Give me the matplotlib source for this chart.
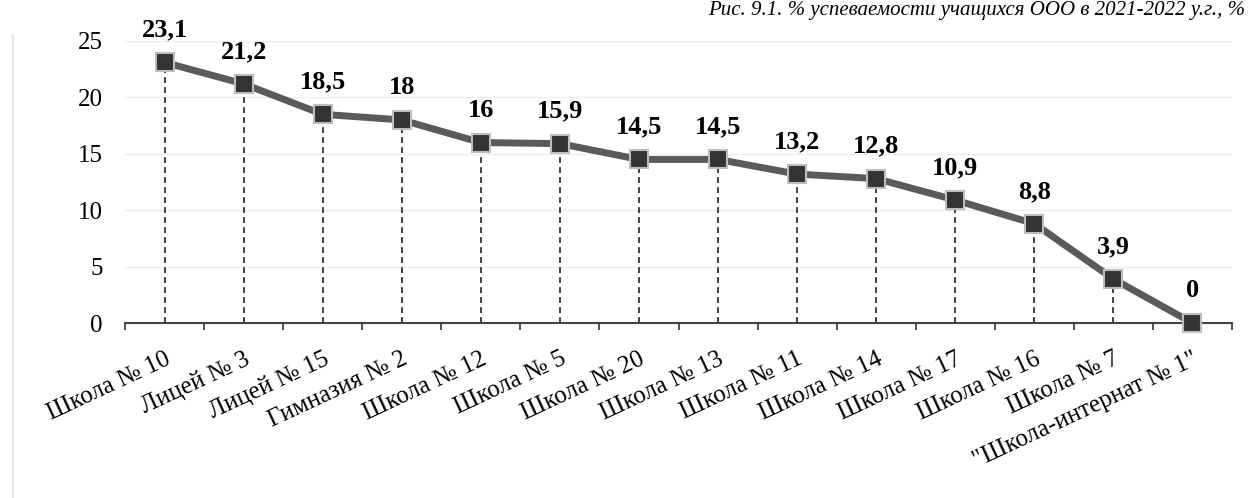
import numpy as np
import matplotlib.pyplot as plt

# Data
schools = ["Школа № 10", "Лицей № 3", "Лицей № 15", "Гимназия № 2", "Школа № 12",
           "Школа № 5", "Школа № 20", "Школа № 13", "Школа № 11", "Школа № 14",
           "Школа № 17", "Школа № 16", "Школа № 7", '"Школа-интернат № 1"']
values = [23.1, 21.2, 18.5, 18, 16, 15.9, 14.5, 14.5, 13.2, 12.8, 10.9, 8.8, 3.9, 0]
yticks = [0, 5, 10, 15, 20, 25]

plt.rcParams['font.family'] = ['Liberation Serif', 'DejaVu Serif']

fig = plt.figure(figsize=(12.5, 4.98), dpi=100)
ax = fig.add_axes([0.1, 0.3514, 0.8856, 0.5663])

x = np.arange(len(schools))

# dashed drop lines
ax.vlines(x, 0, values, colors='#222222', linestyles=(0, (3.5, 2.5)), linewidth=1.2, zorder=1)

# main line with square markers
ax.plot(x, values, color='#5a5a5a', linewidth=5, zorder=2, solid_capstyle='round')
ax.plot(x, values, linestyle='none', marker='s', markersize=13, markerfacecolor='#333333',
        markeredgecolor='#bdbdbd', markeredgewidth=1.5, zorder=3, clip_on=False)

for xi, v in zip(x, values):
    lbl = f"{v:g}".replace('.', ',')
    ax.annotate(lbl, (xi, v), xytext=(0, 15), textcoords='offset points', ha='center',
                va='bottom', fontsize=19, fontweight='bold', annotation_clip=False)

ax.set_xlim(-0.5, len(schools) - 0.5)
ax.set_ylim(0, 25)
ax.set_yticks(yticks)
ax.set_yticklabels([str(t) for t in yticks], fontsize=18)
ax.tick_params(axis='y', length=0, pad=16)
ax.grid(axis='y', color='#eeeeee', linewidth=1)
ax.set_axisbelow(True)

ax.set_xticks(x)
ax.set_xticklabels(schools, rotation=25, ha='right', rotation_mode='anchor', fontsize=18)
ax.set_xticks(np.arange(-0.5, len(schools)), minor=True)
ax.tick_params(axis='x', which='major', length=0, pad=18)
ax.tick_params(axis='x', which='minor', length=5, width=1.2, color='#333333')

for s in ['top', 'right', 'left']:
    ax.spines[s].set_visible(False)
ax.spines['bottom'].set_color('#444444')
ax.spines['bottom'].set_linewidth(1.5)

# faint border of the chart area
fig.add_artist(plt.Line2D([0.01, 0.01], [0.0, 0.93], color='#e6e6e6', linewidth=1.5))

# caption at the top of the scan
fig.text(0.996, 0.998, "Рис. 9.1. % успеваемости учащихся ООО в 2021-2022 у.г., %",
         fontsize=15, style='italic', ha='right', va='top')

fig.savefig('out.png', dpi=100)
